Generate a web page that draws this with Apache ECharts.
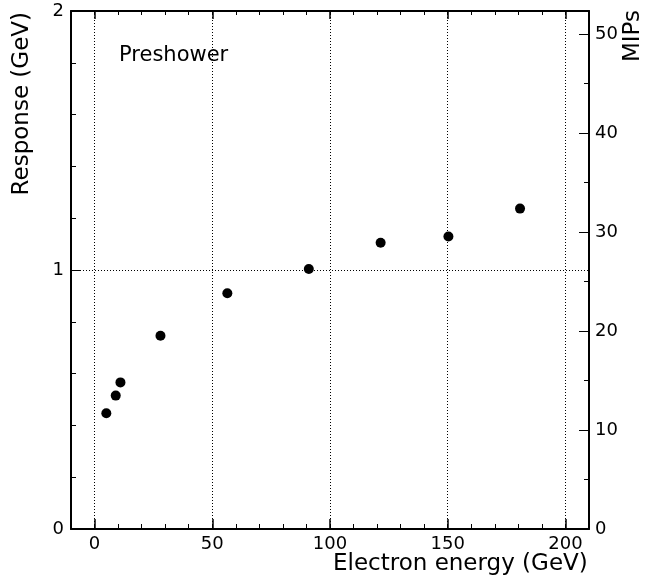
<!DOCTYPE html>
<html>
<head>
<meta charset="utf-8">
<script src="https://cdn.jsdelivr.net/npm/echarts@6/dist/echarts.min.js"></script>
<style>
  html, body { margin: 0; padding: 0; background: #fff; }
  #main { width: 647px; height: 583px; }
</style>
</head>
<body>
<div id="main"></div>
<script>
// electron beam energy (GeV) and preshower response (GeV)
const energies = [5, 9, 11, 28, 56.4, 91, 121.5, 150.3, 180.7];
const response = [0.447, 0.515, 0.566, 0.746, 0.910, 1.004, 1.105, 1.129, 1.237];

// axis ranges and conversion GeV -> MIPs for the right scale
const xRange = [-10, 210];
const yRange = [0, 2];
const mipsPerGeV = 26.16;
const mipsTicks = [0, 10, 20, 30, 40, 50];

const FONT = 'DejaVu Sans';
const points = energies.map((e, i) => [e, response[i]]);

const dotted = { color: '#000', width: 1, type: [1, 2] };
const frame = { show: true, onZero: false, lineStyle: { color: '#000', width: 2 } };
const noLine = { show: false, onZero: false };

const chart = echarts.init(document.getElementById('main'));
chart.setOption({
  animation: false,
  backgroundColor: '#fff',
  grid: { left: 71, right: 58, top: 11, bottom: 54, containLabel: false, outerBoundsMode: 'none' },
  xAxis: [
    {
      // main bottom axis: labels, long ticks, grid lines every 50
      type: 'value', position: 'bottom', min: xRange[0], max: xRange[1], splitNumber: 5,
      axisLine: frame,
      axisTick: { show: true, inside: true, length: 10, lineStyle: { color: '#000', width: 1.5 } },
      axisLabel: {
        color: '#000', fontFamily: FONT, fontSize: 18, margin: 6,
        formatter: v => (v % 50 === 0 ? String(v) : '')
      },
      splitLine: { show: true, lineStyle: dotted }
    },
    {
      // bottom minor ticks every 10
      type: 'value', position: 'bottom', min: xRange[0], max: xRange[1], interval: 10,
      axisLine: noLine,
      axisTick: { show: true, inside: true, length: 5, lineStyle: { color: '#000', width: 1 } },
      axisLabel: { show: false }, splitLine: { show: false }
    },
    {
      type: 'value', position: 'top', min: xRange[0], max: xRange[1], splitNumber: 5,
      axisLine: frame,
      axisTick: { show: true, inside: true, length: 8, lineStyle: { color: '#000', width: 1.5 } },
      axisLabel: { show: false }, splitLine: { show: false }
    },
    {
      type: 'value', position: 'top', min: xRange[0], max: xRange[1], interval: 10,
      axisLine: noLine,
      axisTick: { show: true, inside: true, length: 4, lineStyle: { color: '#000', width: 1 } },
      axisLabel: { show: false }, splitLine: { show: false }
    }
  ],
  yAxis: [
    {
      type: 'value', position: 'left', min: yRange[0], max: yRange[1], interval: 1,
      axisLine: frame,
      axisTick: { show: true, inside: true, length: 10, lineStyle: { color: '#000', width: 1 } },
      minorTick: { show: true, splitNumber: 5, length: 5, lineStyle: { color: '#000', width: 1 } },
      axisLabel: { color: '#000', fontFamily: FONT, fontSize: 18, margin: 7 },
      splitLine: { show: true, lineStyle: dotted }
    },
    {
      type: 'value', position: 'right', min: 0, max: yRange[1] * mipsPerGeV, interval: 10,
      axisLine: frame,
      axisTick: { show: true, inside: true, length: 10, lineStyle: { color: '#000', width: 1 } },
      axisLabel: {
        color: '#000', fontFamily: FONT, fontSize: 18, margin: 6,
        formatter: v => (mipsTicks.indexOf(v) >= 0 ? String(v) : '')
      },
      splitLine: { show: false }
    },
    {
      type: 'value', position: 'right', min: 0, max: yRange[1] * mipsPerGeV, interval: 5,
      axisLine: noLine,
      axisTick: { show: true, inside: true, length: 5, lineStyle: { color: '#000', width: 1 } },
      axisLabel: { show: false }, splitLine: { show: false }
    }
  ],
  graphic: [
    {
      type: 'text', x: 333, y: 564,
      style: { text: 'Electron energy (GeV)', font: '23px "DejaVu Sans"', fill: '#000',
               textAlign: 'left', textVerticalAlign: 'middle' }
    },
    {
      type: 'text', x: 22, y: 12, rotation: Math.PI / 2,
      style: { text: 'Response (GeV)', font: '23px "DejaVu Sans"', fill: '#000',
               textAlign: 'right', textVerticalAlign: 'middle' }
    },
    {
      type: 'text', x: 633, y: 10, rotation: Math.PI / 2,
      style: { text: 'MIPs', font: '23px "DejaVu Sans"', fill: '#000',
               textAlign: 'right', textVerticalAlign: 'middle' }
    },
    {
      type: 'text', x: 119, y: 56,
      style: { text: 'Preshower', font: '21px "DejaVu Sans"', fill: '#000',
               textAlign: 'left', textVerticalAlign: 'middle' }
    }
  ],
  series: [
    {
      type: 'scatter', xAxisIndex: 0, yAxisIndex: 0,
      symbol: 'circle', symbolSize: 10,
      itemStyle: { color: '#000', opacity: 1 },
      data: points
    }
  ]
});
</script>
</body>
</html>
